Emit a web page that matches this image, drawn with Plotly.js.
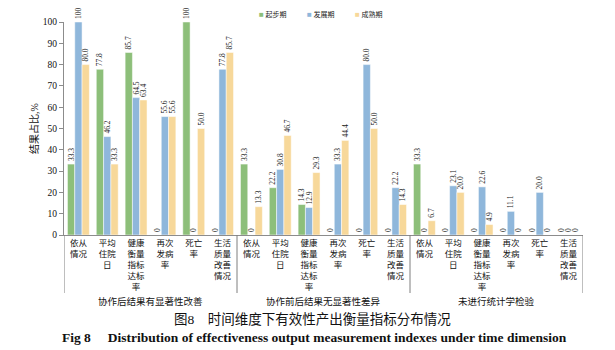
<!DOCTYPE html>
<html>
<head>
<meta charset="utf-8">
<script src="https://cdn.plot.ly/plotly-3.0.1.min.js"></script>
<style>html,body{margin:0;padding:0;background:#fff;}#chart{width:615px;height:350px;}</style>
</head>
<body>
<div id="chart"></div>
<script>
const groups = ['协作后结果有显著性改善', '协作前后结果无显著性差异', '未进行统计学检验'];
const indicators = ['依从<br>情况', '平均<br>住院<br>日', '健康<br>衡量<br>指标<br>达标<br>率', '再次<br>发病<br>率', '死亡<br>率', '生活<br>质量<br>改善<br>情况'];
const seriesNames = ['起步期', '发展期', '成熟期'];
const seriesColors = ['#8DBF7A', '#8FB7DB', '#F7D89A'];
const startStage   = [33.3, 77.8, 85.7, 0, 100, 0,    33.3, 22.2, 14.3, 0, 0, 0,       33.3, 0, 0, 0, 0, 0];
const developStage = [100, 46.2, 64.5, 55.6, 0, 77.8, 0, 30.8, 12.9, 33.3, 80.0, 22.2,  0, 23.1, 22.6, 11.1, 20.0, 0];
const matureStage  = [80.0, 33.3, 63.4, 55.6, 50.0, 85.7, 13.3, 46.7, 29.3, 44.4, 50.0, 14.3, 6.7, 20.0, 4.9, 0, 0, 0];
const yTicks = [0, 10, 20, 30, 40, 50, 60, 70, 80, 90, 100];
const yTitle = '结果占比,%';
const captionCn = '图8　时间维度下有效性产出衡量指标分布情况';
const captionEn = '<b>Fig 8　 Distribution of effectiveness output measurement indexes under time dimension</b>';

const serif = 'Liberation Serif, Noto Sans CJK SC, serif';
const cjk = 'Liberation Serif, Noto Sans CJK SC, sans-serif';

const plotH = 213;
const xPos = [];
const tickText = [];
groups.forEach((g, gi) => indicators.forEach((c, ci) => { xPos.push(gi * indicators.length + ci); tickText.push(c); }));

function fmt(v) { return v === 0 ? '0' : (v === 100 ? '100' : v.toFixed(1)); }

const allSeries = [startStage, developStage, matureStage];
const traces = allSeries.map((vals, si) => ({
  type: 'bar',
  name: seriesNames[si],
  x: xPos,
  y: vals,
  text: vals.map(fmt),
  textposition: 'outside',
  textangle: -90,
  constraintext: 'none',
  cliponaxis: false,
  textfont: {family: serif, size: 7.5, color: '#222'},
  marker: {color: seriesColors[si], line: {color: '#ffffff', width: 0.5}},
  showlegend: false,
  hoverinfo: 'x+y'
}));

const n = indicators.length;
const shapes = [];
for (let gi = 0; gi <= groups.length; gi++) {
  shapes.push({type: 'line', xref: 'x', yref: 'paper', x0: gi * n - 0.5, x1: gi * n - 0.5, y0: 0, y1: -58 / plotH,
    line: {color: '#7f7f7f', width: 1}});
}
const annotations = [];
groups.forEach((g, gi) => annotations.push({
  xref: 'x', yref: 'paper', x: gi * n + (n - 1) / 2, y: -66 / plotH, text: g, showarrow: false,
  xanchor: 'center', yanchor: 'middle', font: {family: cjk, size: 9.5, color: '#111'}
}));
annotations.push({xref: 'paper', yref: 'paper', x: 0.478, y: -84 / plotH, text: captionCn, showarrow: false,
  xanchor: 'center', yanchor: 'middle', font: {family: cjk, size: 13.5, color: '#111'}});
annotations.push({xref: 'paper', yref: 'paper', x: 0.482, y: -102 / plotH, text: captionEn, showarrow: false,
  xanchor: 'center', yanchor: 'middle', font: {family: serif, size: 13.5, color: '#111'}});
const legendX = [0.372, 0.464, 0.556];
seriesNames.forEach((s, si) => annotations.push({
  xref: 'paper', yref: 'paper', x: legendX[si], y: 1.033, showarrow: false, xanchor: 'left', yanchor: 'middle',
  text: '<span style="color:' + seriesColors[si] + ';font-size:8px">■</span> ' + s,
  font: {family: cjk, size: 7, color: '#222'}
}));

const layout = {
  width: 615, height: 350,
  margin: {l: 64, r: 32, t: 22, b: 115},
  paper_bgcolor: '#ffffff', plot_bgcolor: '#ffffff',
  barmode: 'group', bargap: 0.24, bargroupgap: 0,
  showlegend: false,
  xaxis: {
    type: 'linear', range: [-0.5, xPos.length - 0.5], tickmode: 'array', tickvals: xPos, ticktext: tickText,
    showline: true, linecolor: '#8c8c8c', linewidth: 1, ticks: '', showgrid: false, zeroline: false,
    tickfont: {family: cjk, size: 8.5, color: '#111'}, fixedrange: true
  },
  yaxis: {
    range: [0, 100], tickmode: 'array', tickvals: yTicks, showline: true, linecolor: '#8c8c8c', linewidth: 1,
    ticks: 'outside', ticklen: 4, tickcolor: '#8c8c8c', showgrid: false, zeroline: false,
    tickfont: {family: serif, size: 9.5, color: '#111'},
    title: {text: yTitle, font: {family: cjk, size: 10, color: '#111'}, standoff: 2}
  },
  shapes: shapes,
  annotations: annotations
};

Plotly.newPlot('chart', traces, layout, {displayModeBar: false, staticPlot: true});
</script>
</body>
</html>
